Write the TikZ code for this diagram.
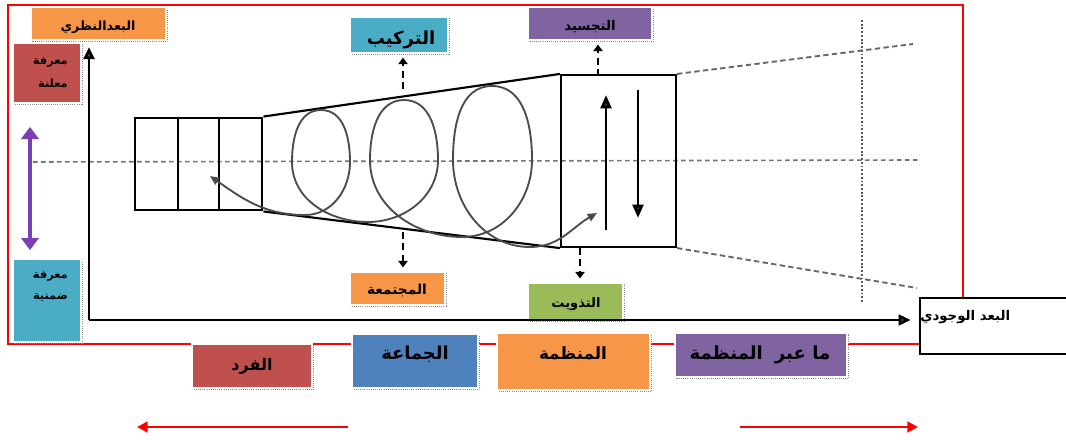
\documentclass[tikz,border=0pt]{standalone}
\usepackage{fontspec}
\newfontfamily\arabicfont[Script=Arabic]{DejaVu Sans}
\TeXXeTstate=1
\usetikzlibrary{arrows.meta,fit,shadows}

\definecolor{tagorange}{HTML}{F79646}
\definecolor{tagred}{HTML}{C0504D}
\definecolor{tagteal}{HTML}{4BACC6}
\definecolor{tagpurple}{HTML}{8064A2}
\definecolor{taggreen}{HTML}{9BBB59}
\definecolor{tagblue}{HTML}{4F81BD}
\definecolor{arrowpurple}{HTML}{7A3FB0}

\newcommand{\ar}[1]{\beginR #1\endR}
\newcommand{\arsize}[1]{\arabicfont\bfseries\fontsize{#1}{#1}\selectfont}

\begin{document}
\begin{tikzpicture}[x=0.75pt,y=-0.75pt,
  tag/.style={inner sep=0pt, draw=white, line width=0.8pt,
    drop shadow={shadow xshift=1.3pt, shadow yshift=-1.3pt, fill=none,
      draw=black!45, densely dotted, line width=0.6pt, opacity=1}},
  txt/.style={inner sep=0pt, anchor=center, text=black},
  redframe/.style={draw=red, line width=2pt},
  axis/.style={line width=2pt, draw=black, -{Triangle[length=9pt,width=8pt,fill=black!70]}},
  thickline/.style={line width=1.6pt, draw=black},
  centreline/.style={draw=black!55, line width=1.2pt, dash pattern=on 3.5pt off 2.5pt},
  guide/.style={draw=black!60, line width=1.4pt, dash pattern=on 4pt off 2.5pt},
  dotline/.style={draw=black!65, line width=2pt, dash pattern=on 1.4pt off 1.4pt},
  dasharrow/.style={draw=black, line width=2pt, dash pattern=on 5pt off 3.5pt,
    -{Triangle[length=5pt,width=7pt]}, shorten >=3pt},
  coil/.style={draw=black!70, line width=1.4pt,
    {Triangle[length=7pt,width=6pt,fill=black!75]}-{Triangle[length=7pt,width=6pt,fill=black!75]}},
  flow/.style={line width=2.2pt, draw=black, -{Triangle[length=10pt,width=8pt,fill=black!70]}},
  redarrow/.style={draw=red, line width=2.2pt, -{Triangle[length=8pt,width=8pt]}},
  purplearrow/.style={draw=arrowpurple, line width=2.8pt,
    {Triangle[length=9pt,width=13pt]}-{Triangle[length=9pt,width=13pt]}}
]
\path[use as bounding box, clip] (0,0) rectangle (1066,439);
\fill[white] (0,0) rectangle (1066,439);

% outer red frame
\draw[redframe] (919,344) -- (8,344) -- (8,5) -- (963,5) -- (963,298);

% middle axis and guides
\draw[centreline] (33,162) -- (918,160);
\draw[dotline] (862,20) -- (862,302);

% left cell block and right block joined by the funnel
\node[thickline, line width=2.2pt, fit={(135,118) (262,210)}, inner sep=0pt] (cells) {};
\draw[thickline] (178,118) -- (178,210);
\draw[thickline] (219,118) -- (219,210);
\node[thickline, fit={(561,75) (676,247)}, inner sep=0pt] (block) {};
\draw[thickline] (cells.north east) -- (block.north west);
\draw[thickline] (cells.south east) -- (block.south west);
\draw[guide] (block.north east) -- (913,44);
\draw[guide] (block.south east) -- (917,288);

% coil running through the funnel (angles measured on the page)
\draw[coil] (210,176) to[out=-35,in=180] (305,215)
  to[out=0,in=-90] (350,162) to[out=90,in=0] (321,110)
  to[out=180,in=90] (292,162) to[out=-90,in=180] (368,222)
  to[out=0,in=-90] (438,160) to[out=90,in=0] (404,100)
  to[out=180,in=90] (370,160) to[out=-90,in=180] (462,237)
  to[out=0,in=-90] (532,160) to[out=90,in=0] (492,86)
  to[out=180,in=90] (453,160) to[out=-90,in=180] (530,247)
  to[out=0,in=-150] (597,213);

% up and down flows inside the right block
\coordinate (upA) at (606,230);
\coordinate (upB) at (606,95);
\coordinate (dnA) at (638,90);
\coordinate (dnB) at (638,218);
\draw[flow] (upA) -- (upB);
\draw[flow] (dnA) -- (dnB);

% vertical axis
\coordinate (origin) at (89,320);
\coordinate (ytop) at (89,47);
\draw[axis] (origin) -- (ytop);

% labels around the funnel
\node[tag, fill=tagteal, fit={(350,17) (448,53)}] (tarkib) {};
\node[txt, font=\arsize{13.5}] (tarkibT) at (401,40) {\ar{التركيب}};
\node[tag, fill=tagpurple, fit={(528,7) (652,40)}] (tajsid) {};
\node[txt, font=\arsize{10}] (tajsidT) at (590,27) {\ar{التجسيد}};
\node[tag, fill=tagorange, fit={(350,272) (445,305)}] (mujtamia) {};
\node[txt, font=\arsize{10.3}] (mujtamiaT) at (397,290) {\ar{المجتمعة}};
\node[tag, fill=taggreen, fit={(528,283) (623,320)}] (tadhwit) {};
\node[txt, font=\arsize{9.8}] (tadhwitT) at (576,304) {\ar{التذويت}};

\coordinate (tarkibFrom) at (403,89);
\coordinate (tajsidFrom) at (598,76);
\coordinate (mujtamiaFrom) at (403,232);
\coordinate (tadhwitFrom) at (580,248);
\draw[dasharrow] (tarkibFrom) -- (tarkib.south -| tarkibFrom);
\draw[dasharrow] (tajsidFrom) -- (tajsid.south -| tajsidFrom);
\draw[dasharrow] (mujtamiaFrom) -- (mujtamia.north -| mujtamiaFrom);
\draw[dasharrow] (tadhwitFrom) -- (tadhwit.north -| tadhwitFrom);

% existence box on the right, reached by the horizontal axis
\node[draw=black, line width=2pt, fit={(920,298) (1080,354)}, inner sep=0pt] (wujudi) {};
\node[txt, anchor=west, font=\arsize{10}] (wujudiT) at (920,317) {\ar{البعد الوجودي}};
\coordinate (xend) at (wujudi.west |- origin);
\draw[axis, shorten >=6pt] (origin) -- (xend);

% left side tags
\node[tag, fill=tagorange, fit={(31,7) (166,40)}] (nazari) {};
\node[txt, font=\arsize{9.5}] (nazariT) at (98,27) {\ar{البعدالنظري}};
\node[tag, fill=tagred, fit={(13,43) (81,103)}] (mualana) {};
\node[txt, anchor=east, font=\arsize{8.5}] (mualanaT1) at (68,62) {\ar{معرفة}};
\node[txt, anchor=east, font=\arsize{8.5}] (mualanaT2) at (68,83) {\ar{معلنة}};
\node[tag, fill=tagteal, fit={(13,259) (81,342)}] (dimniya) {};
\node[txt, anchor=east, font=\arsize{8.5}] (dimniyaT1) at (68,276) {\ar{معرفة}};
\node[txt, anchor=east, font=\arsize{8.5}] (dimniyaT2) at (68,298) {\ar{ضمنية}};
\coordinate (pTop) at (30,127);
\coordinate (pBot) at (30,250);
\draw[purplearrow] (pTop) -- (pBot);

% bottom row of levels
\node[tag, fill=tagred, fit={(192,344) (312,388)}] (fard) {};
\node[txt, font=\arsize{12}] (fardT) at (252,366) {\ar{الفرد}};
\node[tag, fill=tagblue, fit={(352,334) (478,388)}] (jamaa) {};
\node[txt, font=\arsize{13.4}] (jamaaT) at (415,354) {\ar{الجماعة}};
\node[tag, fill=tagorange, fit={(497,333) (650,390)}] (munazama) {};
\node[txt, font=\arsize{12.6}] (munazamaT) at (573,353) {\ar{المنظمة}};
\node[tag, fill=tagpurple, fit={(675,333) (847,377)}] (abr) {};
\node[txt, font=\arsize{13.6}] (abrT) at (760,355) {\ar{ما عبر\hspace{9pt}المنظمة}};

\coordinate (lA) at (348,427);
\coordinate (lB) at (137,427);
\coordinate (rA) at (740,427);
\coordinate (rB) at (918,427);
\draw[redarrow] (lA) -- (lB);
\draw[redarrow] (rA) -- (rB);
\end{tikzpicture}
\end{document}
